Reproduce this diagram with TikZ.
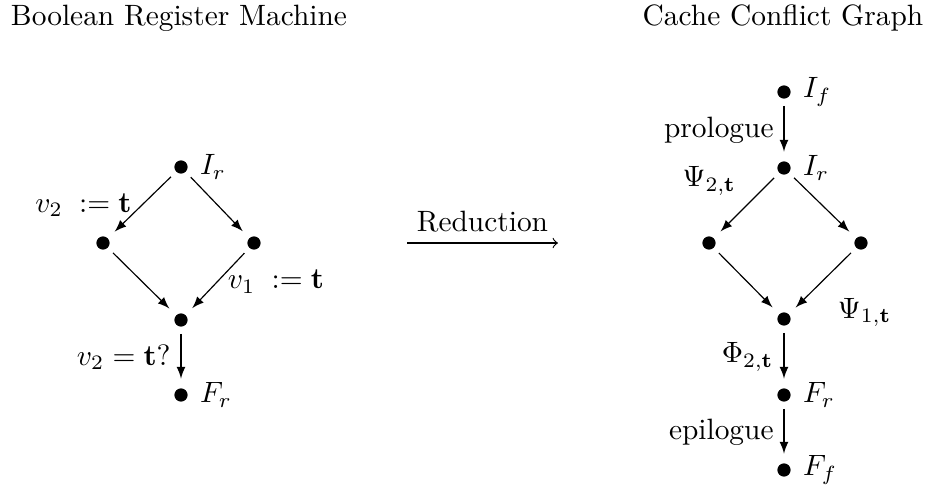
\documentclass[tikz,border=0pt]{standalone}
\usepackage{amsmath, amssymb}
\usetikzlibrary{arrows, positioning}
\tikzset{dot/.style={circle, fill, inner sep=0pt, minimum size=4.5pt},
  flow/.style={->, >=latex, shorten <=2.3pt, shorten >=3.1pt},
  lab/.style={label distance=0.5pt}}

\begin{document}
\begin{tikzpicture}[x=0.34pt, y=-0.34pt]
\useasboundingbox (0,0) rectangle (928,488);
%% titles
	\node[anchor=base] (brm) at (179,25) {Boolean Register Machine};
	\node[anchor=base] (ccg) at (783,25) {Cache Conflict Graph};
%% first diagram
	\node[dot, label={[lab]right:$I_r$}] (ir) at (181,167) {};
	\node[dot] (l) at (103,243) {};
	\node[dot] (r) at (254,243) {};
	\node[dot] (m) at (181,320) {};
	\node[dot, label={[lab]right:$F_r$}] (fr) at (181,395) {};
  \draw[flow] (ir) to node[left] (set2) {$v_2 \;:= \mathbf{t}$} (l);
  \draw[flow] (ir) to (r);
  \draw[flow] (l) to (m);
  \draw[flow] (r) to node[right] (set1) {$v_1 \;:= \mathbf{t}$} (m);
  \draw[flow] (m) to node[left] (test2) {$v_2 = \mathbf{t}?$} (fr);
%% reduction arrow
  \coordinate (rs) at (407,243);
  \coordinate (re) at (558,243);
  \draw[->] (rs) -- node[above] (red) {Reduction} (re);
%% second diagram
	\node[dot, label={[lab]right:$I_f$}] (if2) at (784,92) {};
	\node[dot, label={[lab]right:$I_r$}] (ir2) at (784,168) {};
	\node[dot] (l2) at (709,243) {};
	\node[dot] (r2) at (861,243) {};
	\node[dot] (m2) at (784,319) {};
	\node[dot, label={[lab]right:$F_r$}] (fr2) at (784,395) {};
	\node[dot, label={[lab]right:$F_f$}] (ff2) at (784,470) {};
  \draw[flow] (if2) to node[left] (pro) {prologue} (ir2);
  \draw[flow] (ir2) to node[above left] (psi2) {$\Psi_{2,\mathbf{t}}$} (l2);
  \draw[flow] (ir2) to (r2);
  \draw[flow] (l2) to (m2);
  \draw[flow] (r2) to node[pos=0.6, below right, xshift=4pt] (psi1) {$\Psi_{1,\mathbf{t}}$} (m2);
  \draw[flow] (m2) to node[left] (phi2) {$\Phi_{2,\mathbf{t}}$} (fr2);
  \draw[flow] (fr2) to node[left] (epi) {epilogue} (ff2);
\end{tikzpicture}
\end{document}
